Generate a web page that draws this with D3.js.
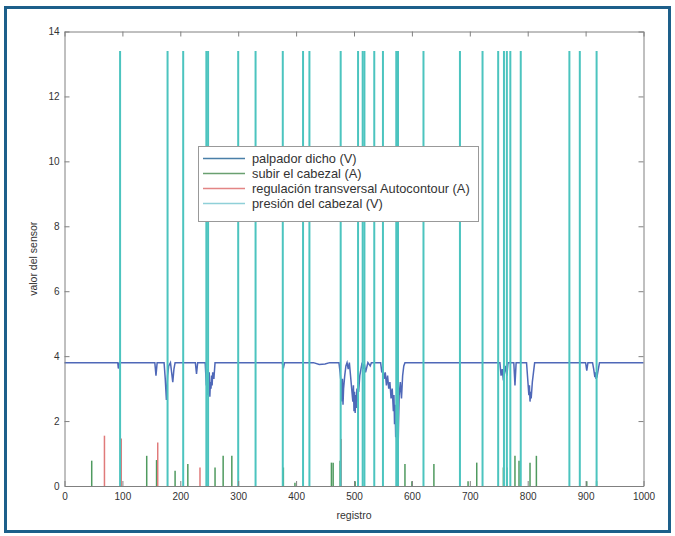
<!DOCTYPE html>
<html>
<head>
<meta charset="utf-8">
<script src="https://cdn.jsdelivr.net/npm/d3@7"></script>
<style>
  html, body { margin: 0; padding: 0; background: #fff; }
  svg { display: block; font-family: "Liberation Sans", Arial, sans-serif; }
</style>
</head>
<body>
<svg id="chart" width="675" height="536"></svg>
<script>
// ---------- DATA ----------
const xTicks = [0, 100, 200, 300, 400, 500, 600, 700, 800, 900, 1000];
const yTicks = [0, 2, 4, 6, 8, 10, 12, 14];
const seriesNames = ["palpador dicho (V)", "subir el cabezal (A)", "regulación transversal Autocontour (A)", "presión del cabezal (V)"];

// palpador dicho (V): baseline ~3.8 with dips
const palpadorX = [0, 92, 93, 94, 95, 156, 158, 160, 172, 174, 176, 177, 178, 180, 183, 185, 187, 189, 191,
  226, 228, 230, 243, 245, 246, 247, 248, 249, 250, 251, 252, 253, 254, 255, 256, 258, 260,
  376, 378, 380, 430, 440, 450, 458,
  474, 476, 478, 479, 480, 481, 482, 484, 486, 488, 490, 492, 494, 496, 498, 499, 500, 501, 502, 503, 504, 505, 506, 507, 508, 510, 512, 514, 516, 518, 520, 524, 528, 530,
  546, 548, 550, 552, 554, 556, 558, 560, 562, 564, 566, 568, 569, 570, 571, 572, 573, 574, 575, 576, 577, 578, 580, 582, 584, 586, 588,
  752, 754, 756, 758, 760, 762, 764, 766, 776, 778, 780,
  798, 800, 802, 803, 804, 805, 806, 808, 810, 812,
  900, 902, 904, 912, 914, 916, 917, 918, 919, 920, 922, 924, 1000];
const palpadorY = [3.8, 3.8, 3.62, 3.7, 3.8, 3.8, 3.4, 3.8, 3.8, 3.3, 2.65, 3.0, 3.4, 3.7, 3.8, 3.5, 3.2, 3.6, 3.8,
  3.8, 3.45, 3.8, 3.8, 3.1, 3.6, 2.8, 3.3, 2.9, 3.5, 2.75, 3.2, 3.0, 3.4, 3.1, 3.5, 3.3, 3.8,
  3.8, 3.62, 3.8, 3.8, 3.74, 3.76, 3.8,
  3.8, 3.5, 3.1, 2.6, 3.3, 2.5, 3.0, 3.4, 3.7, 3.8, 3.6, 3.8, 3.4, 3.0, 2.6, 3.1, 2.3, 2.9, 2.25, 2.8, 2.4, 3.0, 2.6, 3.2, 2.9, 3.4, 3.6, 3.8, 3.6, 3.75, 3.5, 3.8, 3.7, 3.8,
  3.8, 3.5, 3.6, 3.3, 3.5, 3.1, 3.4, 3.0, 3.2, 2.7, 3.0, 2.3, 2.8, 1.9, 2.5, 1.5, 2.2, 1.1, 1.8, 0.95, 2.0, 2.8, 3.2, 2.7, 3.4, 3.7, 3.8,
  3.8, 3.4, 3.6, 3.25, 3.5, 3.7, 3.4, 3.8, 3.8, 3.1, 3.8,
  3.8, 3.3, 2.8, 3.1, 2.6, 2.9, 2.7, 3.2, 3.5, 3.8,
  3.8, 3.55, 3.8, 3.8, 3.6, 3.35, 3.5, 3.3, 3.45, 3.4, 3.6, 3.8, 3.8];

// subir el cabezal (A): spikes from 0
const subirX = [47, 142, 159, 191, 213, 260, 274, 289, 378, 398, 461, 464, 476, 502, 588, 600, 638, 697, 712, 758, 764, 778, 785, 804, 815, 902, 919];
const subirY = [0.78, 0.93, 0.8, 0.47, 0.68, 0.57, 0.93, 0.93, 0.57, 0.1, 0.72, 0.72, 0.78, 0.15, 0.68, 0.15, 0.68, 0.15, 0.72, 0.57, 0.57, 0.93, 0.78, 0.72, 0.93, 0.15, 0.15];

// regulación transversal Autocontour (A): spikes from 0
const regulacionX = [69, 98, 161, 234, 478];
const regulacionY = [1.55, 1.46, 1.34, 0.57, 1.45];

// presión del cabezal (V): spikes from 0 to peak
const presionX = [96, 178, 205, 245, 248, 300, 330, 377, 412, 423, 477, 507, 515, 518, 535, 550, 573, 576, 620, 683, 722, 749, 759, 764, 770, 788, 872, 890, 919];
const presionY = presionX.map(() => 13.4);

// ---------- STYLE ----------
const colors = ["#4f68b8", "#4f9a5f", "#e07a7a", "#4cc4bf"];
const legendColors = ["#4a7fa8", "#6aa070", "#e38585", "#8fd0d8"];

const svg = d3.select("#chart");
svg.append("rect").attr("x", 0).attr("y", 0).attr("width", 675).attr("height", 536).attr("fill", "#fff");
svg.append("rect").attr("x", 5.5).attr("y", 7.5).attr("width", 664).attr("height", 524)
  .attr("fill", "none").attr("stroke", "#1d5f8a").attr("stroke-width", 3);

const x = d3.scaleLinear().domain([0, 1000]).range([64.5, 643.5]);
const y = d3.scaleLinear().domain([0, 14]).range([486, 31.5]);

const plot = svg.append("g");

// palpador line
const line = d3.line().x((d, i) => x(palpadorX[i])).y((d, i) => y(palpadorY[i]));
plot.append("path").datum(palpadorX).attr("d", line)
  .attr("fill", "none").attr("stroke", colors[0]).attr("stroke-width", 1.5);

function spikes(xs, ys, color, w) {
  plot.append("g").selectAll("line").data(xs).join("line")
    .attr("x1", d => x(d)).attr("x2", d => x(d))
    .attr("y1", y(0)).attr("y2", (d, i) => y(ys[i]))
    .attr("stroke", color).attr("stroke-width", w);
}
spikes(subirX, subirY, colors[1], 1.5);
spikes(regulacionX, regulacionY, colors[2], 1.5);
spikes(presionX, presionY, colors[3], 2);

// axes
const axisColor = "#808080";
const fontSize = "10px";
function styleAxis(g) {
  g.selectAll("path.domain").attr("stroke", axisColor);
  g.selectAll(".tick line").attr("stroke", axisColor);
  g.selectAll(".tick text").attr("fill", "#333").style("font-size", fontSize).style("font-family", "'Liberation Sans', Arial, sans-serif");
}
svg.append("g").attr("transform", `translate(0,${y(0)})`)
  .call(d3.axisBottom(x).tickValues(xTicks).tickFormat(d3.format("d")).tickSize(-5).tickPadding(7).tickSizeOuter(0))
  .call(styleAxis);
svg.append("g").attr("transform", `translate(0,${y(14)})`)
  .call(d3.axisTop(x).tickValues(xTicks).tickSize(-5).tickFormat("").tickSizeOuter(0))
  .call(styleAxis);
svg.append("g").attr("transform", `translate(${x(0)},0)`)
  .call(d3.axisLeft(y).tickValues(yTicks).tickSize(-5).tickPadding(5).tickSizeOuter(0))
  .call(styleAxis);
svg.append("g").attr("transform", `translate(${x(1000)},0)`)
  .call(d3.axisRight(y).tickValues(yTicks).tickSize(-5).tickFormat("").tickSizeOuter(0))
  .call(styleAxis);

// axis labels
svg.append("text").attr("x", (x(0) + x(1000)) / 2).attr("y", 519)
  .attr("text-anchor", "middle").attr("fill", "#333").style("font-size", "10.5px").text("registro");
svg.append("text").attr("transform", `translate(37,${(y(0) + y(14)) / 2}) rotate(-90)`)
  .attr("text-anchor", "middle").attr("fill", "#333").style("font-size", "10.5px").text("valor del sensor");

// legend
const lg = svg.append("g");
lg.append("rect").attr("x", 198.5).attr("y", 146.5).attr("width", 280).attr("height", 75)
  .attr("fill", "#fff").attr("stroke", "#999");
seriesNames.forEach((name, i) => {
  const ry = 158.5 + i * 15;
  lg.append("line").attr("x1", 203).attr("x2", 245).attr("y1", ry).attr("y2", ry)
    .attr("stroke", legendColors[i]).attr("stroke-width", 1.5);
  lg.append("text").attr("x", 252).attr("y", ry).attr("dy", "0.35em")
    .attr("fill", "#333").style("font-size", "12.8px").attr("textLength", null).text(name);
});
</script>
</body>
</html>
